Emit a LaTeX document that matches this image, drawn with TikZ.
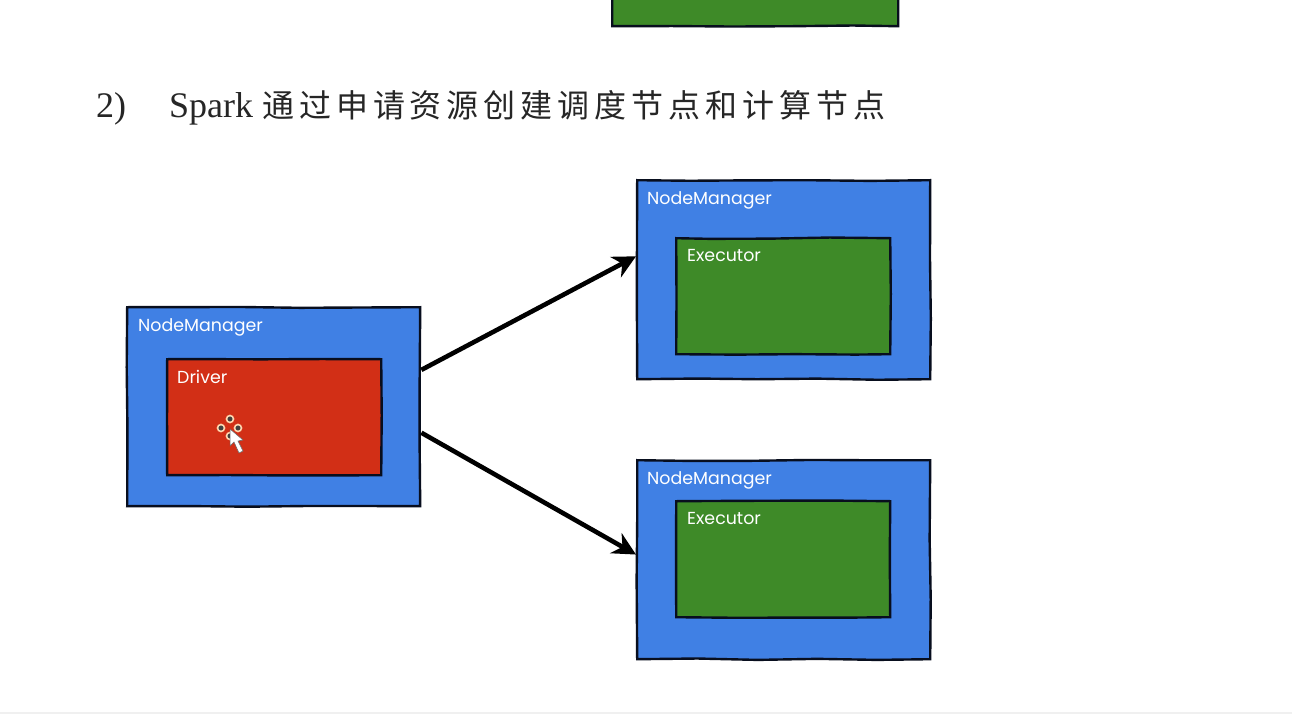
\documentclass[tikz,border=0pt]{standalone}
\usepackage{fontspec}
\usepackage{xcolor}
\usetikzlibrary{arrows.meta,decorations.pathmorphing}
\setmainfont{Liberation Serif}
\newfontfamily\cjk[LetterSpace=15.5]{Noto Sans CJK SC}
\newfontfamily\boxfont{Poppins}
\definecolor{nodeblue}{RGB}{64,128,228}
\definecolor{driverred}{RGB}{210,47,22}
\definecolor{execgreen}{RGB}{62,138,40}
\definecolor{inkdark}{RGB}{8,14,30}
\pgfmathsetseed{7}
\tikzset{
  sketchbox/.style={draw=inkdark,line width=2.4pt,anchor=north west,inner sep=0pt,
    decorate,decoration={random steps,segment length=60pt,amplitude=0.7pt}},
  managerbox/.style={sketchbox,fill=nodeblue,minimum width=293pt,minimum height=199pt},
  workbox/.style={sketchbox,fill=execgreen,minimum width=214pt,minimum height=116pt},
  boxlabel/.style={text=white,anchor=west,font=\boxfont\fontsize{17.4}{20}\selectfont,inner sep=0pt},
  sendarrow/.style={draw=black,line width=4.6pt,-{Stealth[length=23pt,width=23pt]}},
  cursordot/.style={circle,draw=white!70!orange,fill=black!75,line width=1.6pt,minimum size=7pt,inner sep=0pt},
}
\begin{document}
\begin{tikzpicture}[x=1pt,y=-1pt]
  \useasboundingbox (0,0) rectangle (1292,714);
  \fill[white] (0,0) rectangle (1292,714);
  \fill[black!6] (0,712) rectangle (1292,714);
  \node[sketchbox,fill=execgreen,minimum width=286pt,minimum height=80pt] (topexec) at (611,-55) {};
  \node[anchor=base west,font=\fontsize{36}{40}\selectfont,text=black!85,inner sep=0pt] (itemno) at (96,118) {2)};
  \node[anchor=base west,font=\fontsize{36}{40}\selectfont,text=black!85,inner sep=0pt] (itemtext) at (169,118)
    {Spark {\cjk\fontsize{32}{40}\selectfont 通过申请资源创建调度节点和计算节点}};
  \node[managerbox] (nmdriver) at (126,306) {};
  \node[managerbox] (nmup) at (636,179) {};
  \node[managerbox] (nmdown) at (636,459) {};
  \node[workbox,fill=driverred] (driver) at (166,358) {};
  \node[workbox] (execup) at (675,237) {};
  \node[workbox] (execdown) at (675,500) {};
  \foreach \nm/\lx/\ly in {nmdriver/138/327,nmup/647/200,nmdown/647/480}
    \node[boxlabel] (\nm label) at (\lx,\ly) {NodeManager};
  \node[boxlabel] (driverlabel) at (177,377) {Driver};
  \node[boxlabel] (execuplabel) at (687,256) {Executor};
  \node[boxlabel] (execdownlabel) at (687,519) {Executor};
  \draw[sendarrow] (nmdriver.14) -- (nmup.171);
  \draw[sendarrow] (nmdriver.350) -- (nmdown.178);
  \foreach \dx/\dy in {0/-9,-9/0,8/0,0/8}
    \node[cursordot] at (230+\dx,428+\dy) {};
  \draw[fill=white,draw=black!60,line width=0.5pt] (230,429) -- (230,446) -- (234,442) -- (239,453) -- (243,451) -- (238,441) -- (243,440) -- cycle;
\end{tikzpicture}
\end{document}
